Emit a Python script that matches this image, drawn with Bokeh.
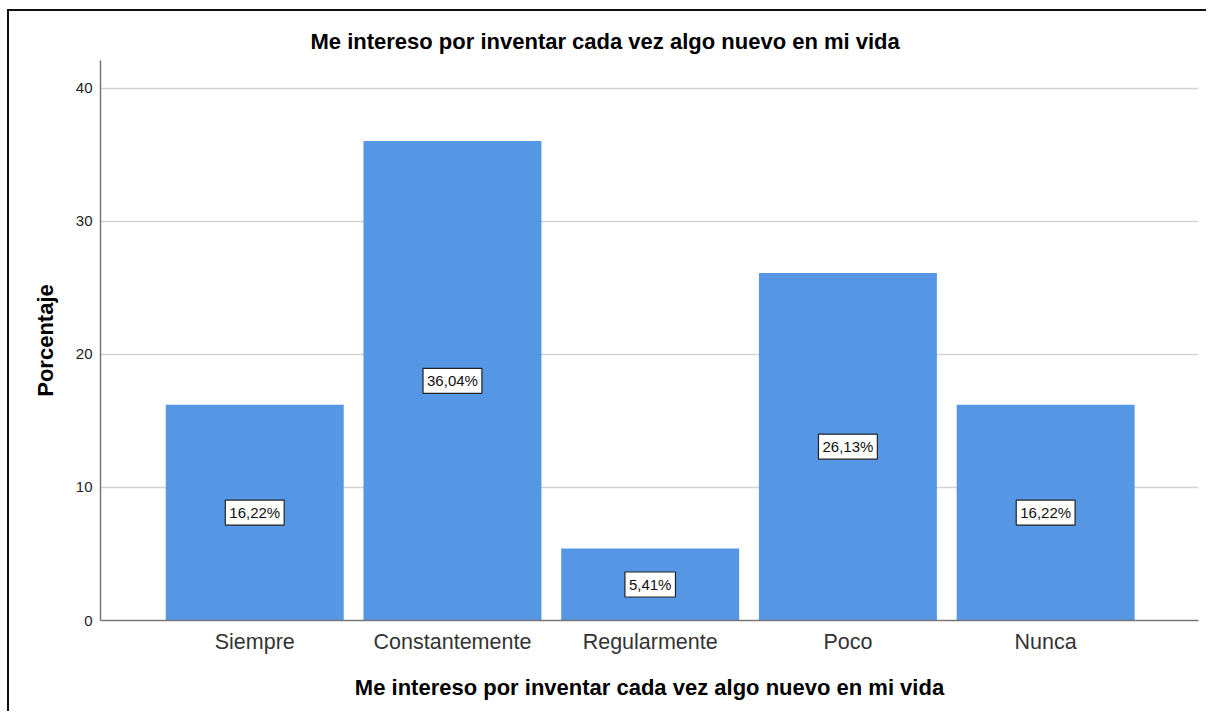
from bokeh.plotting import figure
from bokeh.models import FixedTicker, Label, Range1d
from bokeh.embed import file_html
from bokeh.resources import INLINE

categories = ["Siempre", "Constantemente", "Regularmente", "Poco", "Nunca"]
percentages = [16.22, 36.04, 5.41, 26.13, 16.22]
y_ticks = [0, 10, 20, 30, 40]
title_text = "Me intereso por inventar cada vez algo nuevo en mi vida"
x_label = "Me intereso por inventar cada vez algo nuevo en mi vida"
y_label = "Porcentaje"

FONT = "Liberation Sans"
positions = list(range(1, len(categories) + 1))

p = figure(
    width=1199, height=702,
    output_backend="svg", toolbar_location=None,
    x_range=Range1d(0.22, 5.773), y_range=Range1d(0, 42.1),
    min_border_left=91, min_border_right=10, min_border_top=49, min_border_bottom=93,
    styles={"margin-left": "7px", "margin-top": "9px",
            "border-top": "2px solid #111", "border-left": "2px solid #111"},
)
p.outline_line_color = None
p.background_fill_color = "white"
p.border_fill_color = "white"

p.title.text = title_text
p.title.text_font = FONT
p.title.text_font_size = "22px"
p.title.text_font_style = "bold"
p.title.text_color = "#000000"
p.title.align = "left"
p.title.offset = 210
p.title.standoff = 14

p.vbar(x=positions, top=percentages, width=0.9, bottom=0,
       fill_color="#5596e5", line_color=None)

for xpos, v in zip(positions, percentages):
    txt = f"{v:.2f}".replace(".", ",") + "%"
    p.add_layout(Label(
        x=xpos, y=v / 2, text=txt,
        text_align="center", text_baseline="middle",
        text_font=FONT, text_font_size="15px", text_color="#111111",
        background_fill_color="white", border_line_color="#222222",
        border_line_width=1.2, padding=4,
    ))

xa = p.xaxis[0]
xa.ticker = FixedTicker(ticks=positions)
xa.major_label_overrides = {i: c for i, c in zip(positions, categories)}
xa.major_label_text_font = FONT
xa.major_label_text_font_size = "21.5px"
xa.major_label_text_color = "#333333"
xa.major_label_standoff = 3
xa.major_tick_line_color = None
xa.minor_tick_line_color = None
xa.axis_line_color = "#777777"
xa.axis_line_width = 1.5
xa.axis_label = x_label
xa.axis_label_text_font = FONT
xa.axis_label_text_font_size = "22px"
xa.axis_label_text_font_style = "bold"
xa.axis_label_text_color = "#000000"
xa.axis_label_standoff = 18

ya = p.yaxis[0]
ya.ticker = FixedTicker(ticks=y_ticks)
ya.major_label_text_font = FONT
ya.major_label_text_font_size = "15px"
ya.major_label_text_color = "#222222"
ya.major_label_standoff = 2
ya.major_tick_line_color = None
ya.minor_tick_line_color = None
ya.axis_line_color = "#777777"
ya.axis_line_width = 1.5
ya.axis_label = y_label
ya.axis_label_text_font = FONT
ya.axis_label_text_font_size = "22px"
ya.axis_label_text_font_style = "bold"
ya.axis_label_text_color = "#000000"
ya.axis_label_standoff = 15

p.xgrid.grid_line_color = None
p.ygrid.grid_line_color = "#d4d4d4"
p.ygrid.grid_line_width = 1.5

open("out.html", "w").write(file_html(p, INLINE))
